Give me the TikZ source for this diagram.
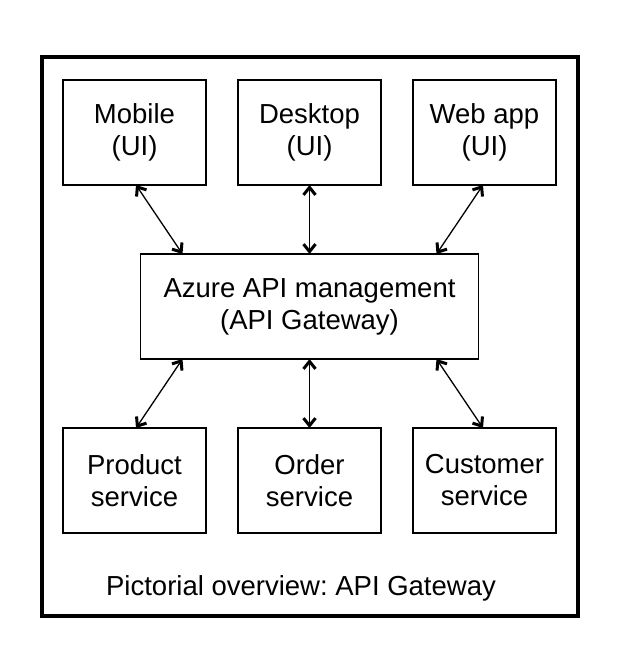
\documentclass[tikz,border=0pt]{standalone}
\usepackage{fontspec}
\setmainfont{Liberation Sans}
\usetikzlibrary{positioning,arrows.meta}
\frenchspacing

\begin{document}
\begin{tikzpicture}[
  x=1pt, y=-1pt,
  every node/.style={
    font=\fontsize{27.5}{32}\selectfont,
  },
  box/.style={
    draw, line width=1.8pt, outer sep=0pt, inner sep=0pt,
    minimum width=143pt, minimum height=105pt, align=center
  },
  link/.style={
    line width=1.3pt,
    {Straight Barb[length=7.5pt,width=12pt,line width=3pt]}-{Straight Barb[length=7.5pt,width=12pt,line width=3pt]}
  },
  node distance=69pt and 32pt
  ]
  \useasboundingbox (0,0) rectangle (621,653);
  \draw[line width=3.5pt] (42,57) rectangle (578,616);
  % clients
  \node[box] (mobile) at (134.5,132.5) {Mobile\\(UI)};
  \node[box, right=of mobile] (desktop) {Desktop\\(UI)};
  \node[box, right=of desktop] (webapp) {Web app\\(UI)};
  % gateway
  \node[box, minimum width=338pt, below=of desktop] (gateway)
    {Azure API management\\(API Gateway)};
  % services
  \node[box, below=of gateway] (order) {Order\\service};
  \node[box, left=of order] (product) {Product\\service};
  \node[box, right=of order] (customer) {Customer\\service};
  \node[anchor=base] (caption) at (301,595) {Pictorial overview: API Gateway};
  % links
  \draw[link] ([xshift=1.5pt]mobile.south) -- ([xshift=42pt]gateway.north west);
  \draw[link] (desktop.south) -- (gateway.north);
  \draw[link] ([xshift=-1.5pt]webapp.south) -- ([xshift=-42pt]gateway.north east);
  \draw[link] ([xshift=42pt]gateway.south west) -- ([xshift=1.5pt]product.north);
  \draw[link] (gateway.south) -- (order.north);
  \draw[link] ([xshift=-42pt]gateway.south east) -- ([xshift=-1.5pt]customer.north);
\end{tikzpicture}
\end{document}
